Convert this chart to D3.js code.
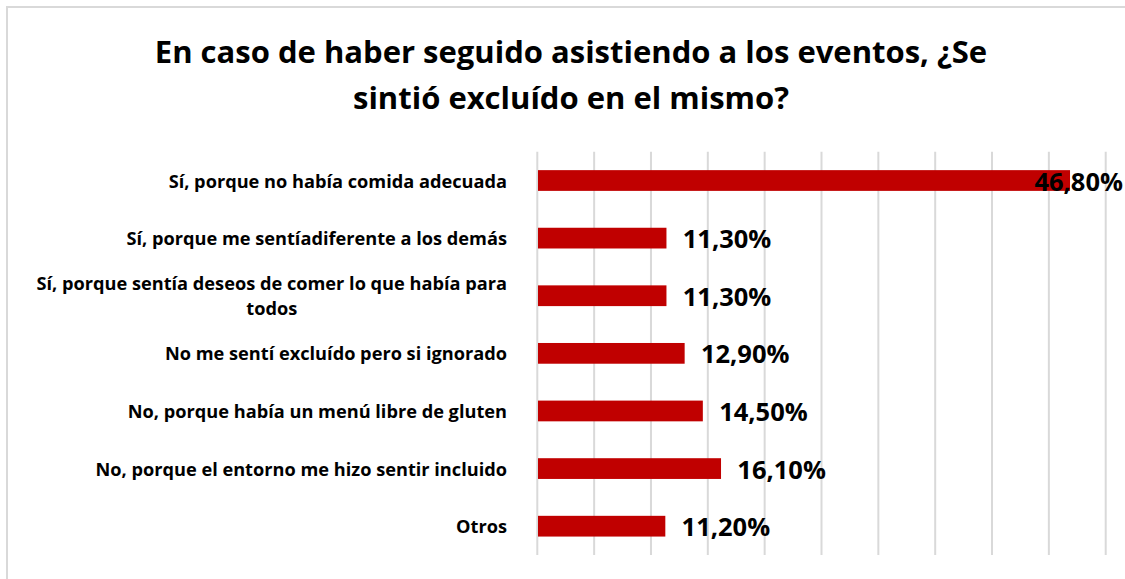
<!DOCTYPE html>
<html>
<head>
<meta charset="utf-8">
<script src="https://cdn.jsdelivr.net/npm/d3@7"></script>
<style>
  html, body { margin: 0; padding: 0; background: #ffffff; }
  svg { display: block; }
</style>
</head>
<body>
<svg id="chart" width="1125" height="579"></svg>
<script>
// Survey answers (top to bottom) and their share of respondents, in percent
const categories = [
  "Sí, porque no había comida adecuada",
  "Sí, porque me sentíadiferente a los demás",
  "Sí, porque sentía deseos de comer lo que había para todos",
  "No me sentí excluído pero si ignorado",
  "No, porque había un menú libre de gluten",
  "No, porque el entorno me hizo sentir incluido",
  "Otros"
];
const values = [46.8, 11.3, 11.3, 12.9, 14.5, 16.1, 11.2];
const valueLabels = ["46,80%", "11,30%", "11,30%", "12,90%", "14,50%", "16,10%", "11,20%"];
const gridTicks = [0, 5, 10, 15, 20, 25, 30, 35, 40, 45, 50];
const titleLines = [
  "En caso de haber seguido asistiendo a los eventos, ¿Se",
  "sintió excluído en el mismo?"
];

const W = 1125, H = 579;
const svg = d3.select("#chart");
const font = "'Open Sans', 'Noto Sans', sans-serif";

// Chart area frame
svg.append("rect")
  .attr("x", 7).attr("y", 7)
  .attr("width", W + 20).attr("height", H + 20)
  .attr("fill", "#ffffff")
  .attr("stroke", "#d9d9d9").attr("stroke-width", 2);

// Title
svg.append("g").selectAll("text")
  .data(titleLines)
  .join("text")
  .attr("x", 571)
  .attr("y", (d, i) => 63 + i * 46)
  .attr("text-anchor", "middle")
  .attr("font-family", font)
  .attr("font-weight", 700)
  .attr("font-size", 31)
  .attr("fill", "#000000")
  .text(d => d);

const x = d3.scaleLinear().domain([0, 50]).range([537.3, 1105.7]);
const y = d3.scaleBand().domain(categories).range([151.7, 555])
  .paddingInner(0.64).paddingOuter(0.32);

// Vertical gridlines
svg.append("g").selectAll("line")
  .data(gridTicks)
  .join("line")
  .attr("x1", d => x(d)).attr("x2", d => x(d))
  .attr("y1", y.range()[0]).attr("y2", y.range()[1])
  .attr("stroke", "#d9d9d9").attr("stroke-width", 2);

// Bars
svg.append("g").selectAll("rect")
  .data(values)
  .join("rect")
  .attr("x", x(0) + 0.7)
  .attr("y", (d, i) => y(categories[i]))
  .attr("width", d => x(d) - x(0))
  .attr("height", y.bandwidth())
  .attr("fill", "#c00000");

// Category labels, wrapped to fit the left margin
const labelRight = 507, labelMax = 490;
const catG = svg.append("g");
categories.forEach((c, i) => {
  const cy = y(c) + y.bandwidth() / 2;
  const t = catG.append("text")
    .attr("font-family", font)
    .attr("font-weight", 700)
    .attr("font-size", 18.2)
    .attr("fill", "#000000");
  // greedy wrap
  const words = c.split(" ");
  const lines = [];
  let line = [];
  const probe = t.append("tspan");
  words.forEach(w => {
    line.push(w);
    probe.text(line.join(" "));
    if (probe.node().getComputedTextLength() > labelMax && line.length > 1) {
      line.pop();
      lines.push(line.join(" "));
      line = [w];
    }
  });
  lines.push(line.join(" "));
  probe.remove();
  const widths = lines.map(l => { const s = t.append("tspan").text(l); const wdt = s.node().getComputedTextLength(); s.remove(); return wdt; });
  const blockW = d3.max(widths);
  const lh = 25;
  lines.forEach((l, k) => {
    t.append("tspan")
      .attr("x", lines.length > 1 ? labelRight - blockW / 2 : labelRight)
      .attr("text-anchor", lines.length > 1 ? "middle" : "end")
      .attr("y", cy + 7 + (k - (lines.length - 1) / 2) * lh)
      .text(l);
  });
});

// Value labels beside each bar, kept inside the frame
const valG = svg.append("g");
values.forEach((v, i) => {
  const cy = y(categories[i]) + y.bandwidth() / 2;
  const t = valG.append("text")
    .attr("font-family", font)
    .attr("font-weight", 700)
    .attr("font-size", 25.5)
    .attr("fill", "#000000")
    .attr("y", cy + 10)
    .text(valueLabels[i]);
  const tw = t.node().getComputedTextLength();
  t.attr("x", Math.min(x(v) + 17, W - 2 - tw));
});
</script>
</body>
</html>
